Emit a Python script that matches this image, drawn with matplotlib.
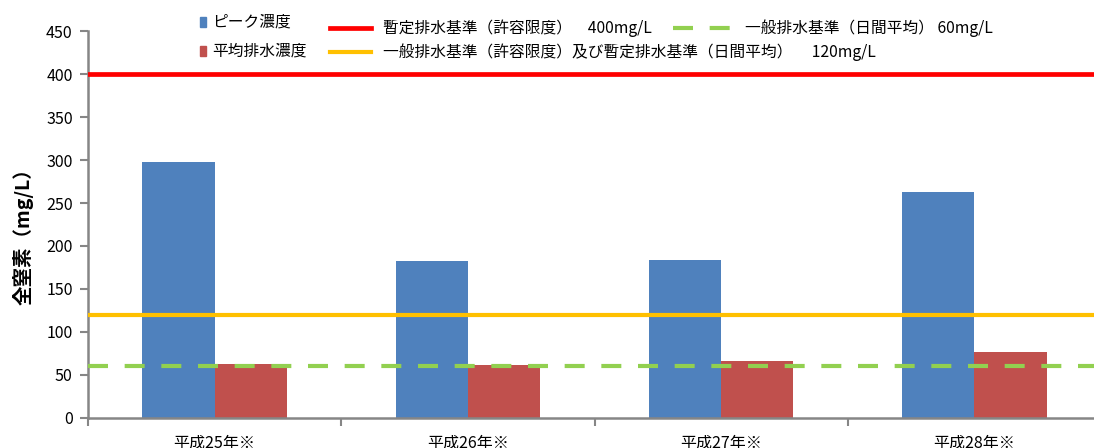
import matplotlib
matplotlib.use("Agg")
import matplotlib.pyplot as plt
from matplotlib.lines import Line2D
from matplotlib.patches import Rectangle
import numpy as np

plt.rcParams['font.family'] = ['Noto Sans CJK JP', 'DejaVu Sans']

# data
years = ['平成25年※', '平成26年※', '平成27年※', '平成28年※']
peak = [298, 182, 184, 263]
average = [63, 61, 66, 76]
limit_temp = 400      # 暫定排水基準(許容限度)
limit_general = 120   # 一般排水基準(許容限度)及び暫定排水基準(日間平均)
limit_daily = 60      # 一般排水基準(日間平均)

c_blue = '#4F81BD'
c_red = '#C0504D'
c_line_red = '#FF0000'
c_orange = '#FFC000'
c_green = '#92D050'
c_axis = '#868686'

W, H = 1094, 448
fig = plt.figure(figsize=(W / 100, H / 100), dpi=100)
# axes right edge lies a bit outside the picture, as in the reference
ax = fig.add_axes([88 / W, 1 - 417.7 / H, (1101 - 88) / W, (417.7 - 31.3) / H])

x = np.arange(len(years))
w = 0.285
ax.bar(x - w / 2, peak, w, color=c_blue, zorder=2)
ax.bar(x + w / 2, average, w, color=c_red, zorder=2)

ax.axhline(limit_temp, color=c_line_red, lw=3.4, zorder=3)
ax.axhline(limit_general, color=c_orange, lw=3.0, zorder=3)
ax.axhline(limit_daily, color=c_green, lw=3.0, dashes=(4.8, 4.0), zorder=3)

ax.set_xlim(-0.5, len(years) - 0.5)
ax.set_ylim(0, 450)
ax.set_yticks(np.arange(0, 451, 50))
ax.tick_params(axis='y', direction='out', length=6, width=1.5, color=c_axis,
               labelsize=11.5, pad=5)

# category boundaries as major ticks, labels on minor ticks at group centres
ax.set_xticks(np.arange(-0.5, len(years), 1.0))
ax.set_xticklabels([])
ax.set_xticks(x, minor=True)
ax.set_xticklabels(years, minor=True, fontsize=11.5)
ax.tick_params(axis='x', which='minor', length=0, pad=12)
ax.tick_params(axis='x', which='major', direction='out', length=6, width=1.5, color=c_axis)

for s in ['top', 'right']:
    ax.spines[s].set_visible(False)
for s in ['left', 'bottom']:
    ax.spines[s].set_color(c_axis)
    ax.spines[s].set_linewidth(1.8)

fig.text(23 / W, 1 - 232 / H, '全窒素（mg/L）', rotation=90, ha='center', va='center',
         fontsize=14, fontweight='bold')


def fx(px):
    return px / W


def fy(py):
    return 1 - py / H


# legend, placed by hand as in the reference
fs = 11.3
fig.add_artist(Rectangle((fx(200), fy(27)), 6 / W, 10 / H, color=c_blue, transform=fig.transFigure))
fig.text(fx(212), fy(22), 'ピーク濃度', va='center', fontsize=fs)
fig.add_artist(Rectangle((fx(200), fy(56)), 6 / W, 10 / H, color=c_red, transform=fig.transFigure))
fig.text(fx(212), fy(51), '平均排水濃度', va='center', fontsize=fs)

fig.add_artist(Line2D([fx(330), fx(371)], [fy(28), fy(28)], color=c_line_red, lw=3.4,
                      transform=fig.transFigure))
fig.text(fx(383), fy(28), '暫定排水基準（許容限度）　400mg/L', va='center', fontsize=fs)
fig.add_artist(Line2D([fx(673), fx(730)], [fy(28), fy(28)], color=c_green, lw=3.0,
                      dashes=(4.8, 4.0), transform=fig.transFigure))
fig.text(fx(745), fy(28), '一般排水基準（日間平均） 60mg/L', va='center', fontsize=fs)
fig.add_artist(Line2D([fx(330), fx(371)], [fy(52), fy(52)], color=c_orange, lw=3.0,
                      transform=fig.transFigure))
fig.text(fx(383), fy(52), '一般排水基準（許容限度）及び暫定排水基準（日間平均）　 120mg/L',
         va='center', fontsize=fs)

fig.savefig('out.png', dpi=100)
